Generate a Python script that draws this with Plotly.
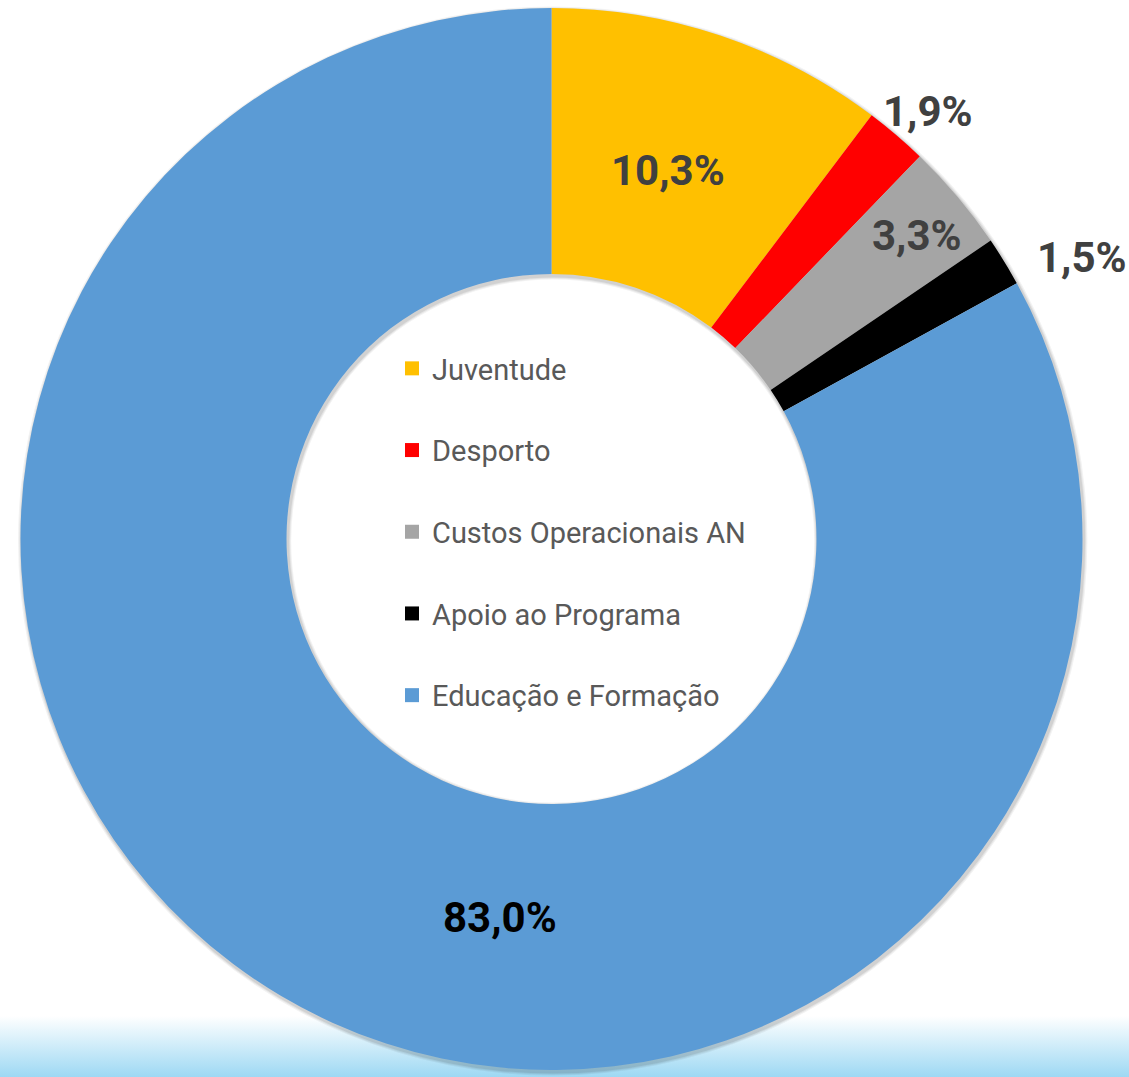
import base64
import plotly.graph_objects as go

# ---- data ----
categories = ["Juventude", "Desporto", "Custos Operacionais AN", "Apoio ao Programa", "Educação e Formação"]
shares = [10.3, 1.9, 3.3, 1.5, 83.0]
colors = ["#FFC000", "#FF0000", "#A5A5A5", "#000000", "#5B9BD5"]
label_colors = ["#404040", "#404040", "#404040", "#404040", "#000000"]
# label anchor positions in pixels (x, y from top) — layout only
label_xy = [(668, 170), (928, 111), (917, 236), (1082, 257), (500, 917)]

W, H = 1129, 1077
CX, CY, R = 551.5, 539.0, 531.0
R_IN = 265.0

def dom(cx, cy, r):
    return dict(x=[(cx - r) / W, (cx + r) / W], y=[(H - cy - r) / H, (H - cy + r) / H])

labels_txt = [f"{v:.1f}".replace(".", ",") + "%" for v in shares]

fig = go.Figure()

# soft shadow rings behind the donut
for k, (ext, alpha) in enumerate([(3.5, 0.05), (2.5, 0.06), (1.5, 0.08)]):
    fig.add_trace(go.Pie(
        values=[1], labels=[f"shadow{k}"], domain=dom(CX + 1.2, CY + 2.0, R + ext),
        hole=(R_IN - ext) / (R + ext), sort=False, textinfo="none", hoverinfo="skip",
        marker=dict(colors=[f"rgba(0,0,0,{alpha})"], line=dict(width=0)), showlegend=False,
    ))

fig.add_trace(go.Pie(
    labels=categories, values=shares, domain=dom(CX, CY, R), hole=R_IN / R,
    sort=False, direction="clockwise", rotation=0,
    marker=dict(colors=colors, line=dict(width=0)),
    textinfo="none", showlegend=False,
))

for txt, col, (px, py) in zip(labels_txt, label_colors, label_xy):
    fig.add_annotation(
        x=px / W, y=1 - py / H, xref="paper", yref="paper", text=txt, showarrow=False,
        xanchor="center", yanchor="middle",
        font=dict(family="Roboto", size=42, color=col, weight="bold"),
    )

# legend entries (squares) shown inside the hole
for cat, col in zip(categories, colors):
    fig.add_trace(go.Scatter(
        x=[None], y=[None], mode="markers", name=cat, legendgroup=cat,
        marker=dict(symbol="square", size=14, color=col, line=dict(width=0)),
    ))

# gradient band at the bottom
svg = ('<svg xmlns="http://www.w3.org/2000/svg" width="10" height="100" preserveAspectRatio="none">'
       '<defs><linearGradient id="g" x1="0" y1="0" x2="0" y2="1">'
       '<stop offset="0" stop-color="#ffffff"/><stop offset="1" stop-color="#9ad7f3"/>'
       '</linearGradient></defs><rect width="10" height="100" fill="url(#g)"/></svg>')
uri = "data:image/svg+xml;base64," + base64.b64encode(svg.encode()).decode()
fig.add_layout_image(dict(source=uri, xref="paper", yref="paper", x=0, y=(H - 1016) / H,
                          sizex=1, sizey=(H - 1016) / H + 0.002, xanchor="left", yanchor="top",
                          sizing="stretch", layer="below"))

fig.update_layout(
    width=W, height=H, margin=dict(l=0, r=0, t=0, b=0),
    paper_bgcolor="white", plot_bgcolor="rgba(0,0,0,0)",
    xaxis=dict(visible=False), yaxis=dict(visible=False),
    showlegend=True,
    legend=dict(
        x=392 / W, y=1 - 343 / H, xanchor="left", yanchor="top",
        bgcolor="rgba(0,0,0,0)", font=dict(family="Roboto", size=29, color="#595959"),
        tracegroupgap=41, traceorder="grouped", itemwidth=30,
    ),
)

fig.write_html("out.html")
